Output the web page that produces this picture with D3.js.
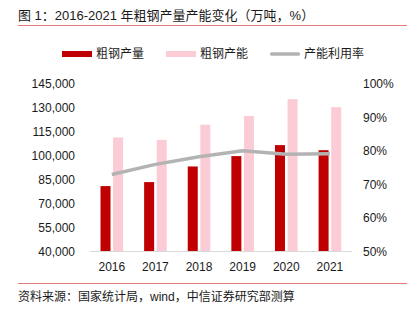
<!DOCTYPE html>
<html>
<head>
<meta charset="utf-8">
<script src="https://cdn.jsdelivr.net/npm/d3@7"></script>
<style>
  body { margin: 0; background: #fff; }
  text { font-family: "Liberation Sans", "Noto Sans CJK SC", sans-serif; fill: #1a1a1a; }
</style>
</head>
<body>
<div id="chart"></div>
<script>
// data
var years = ["2016", "2017", "2018", "2019", "2020", "2021"];
var output = [81000, 83500, 93300, 99800, 106700, 103500];       // 粗钢产量
var capacity = [111500, 110000, 119500, 125000, 135500, 130500]; // 粗钢产能
var utilization = [73.0, 76.0, 78.3, 80.1, 79.0, 79.2];          // 产能利用率 %
var leftTicks = [40000, 55000, 70000, 85000, 100000, 115000, 130000, 145000];
var rightTicks = [50, 60, 70, 80, 90, 100];

var W = 416, H = 321;
var svg = d3.select("#chart").append("svg")
    .attr("width", W)
    .attr("height", H);

// title and rules
svg.append("text")
    .attr("x", 18).attr("y", 20)
    .style("font-size", "13px")
    .text("图 1：2016-2021 年粗钢产量产能变化（万吨，%）");

svg.append("line")
    .attr("x1", 18).attr("x2", 407)
    .attr("y1", 25.5).attr("y2", 25.5)
    .attr("stroke", "#e77b7b").attr("stroke-width", 1);

svg.append("line")
    .attr("x1", 18).attr("x2", 407)
    .attr("y1", 283.5).attr("y2", 283.5)
    .attr("stroke", "#e77b7b").attr("stroke-width", 1);

svg.append("text")
    .attr("x", 18).attr("y", 301)
    .style("font-size", "12px")
    .text("资料来源：国家统计局，wind，中信证券研究部测算");

// scales
var x = d3.scaleBand().domain(years).range([90, 351.7]);
var yL = d3.scaleLinear().domain([40000, 145000]).range([251.5, 84]);
var yR = d3.scaleLinear().domain([50, 100]).range([251.5, 84]);

var barW = 10, gap = 1.3;

// left axis labels
svg.append("g").selectAll("text")
    .data(leftTicks).enter().append("text")
    .attr("x", 75)
    .attr("y", function(d) { return yL(d); })
    .attr("dy", "0.35em")
    .attr("text-anchor", "end")
    .style("font-size", "12px")
    .text(function(d) { return d3.format(",")(d); });

// right axis labels
svg.append("g").selectAll("text")
    .data(rightTicks).enter().append("text")
    .attr("x", 363)
    .attr("y", function(d) { return yR(d); })
    .attr("dy", "0.35em")
    .style("font-size", "12px")
    .text(function(d) { return d + "%"; });

// bars
svg.append("g").selectAll("rect")
    .data(years).enter().append("rect")
    .attr("x", function(d) { return x(d) + x.bandwidth() / 2 - gap - barW; })
    .attr("width", barW)
    .attr("y", function(d, i) { return yL(output[i]); })
    .attr("height", function(d, i) { return yL(40000) - yL(output[i]); })
    .attr("fill", "#c00000");

svg.append("g").selectAll("rect")
    .data(years).enter().append("rect")
    .attr("x", function(d) { return x(d) + x.bandwidth() / 2 + gap; })
    .attr("width", barW)
    .attr("y", function(d, i) { return yL(capacity[i]); })
    .attr("height", function(d, i) { return yL(40000) - yL(capacity[i]); })
    .attr("fill", "#fbccd5");

// baseline
svg.append("line")
    .attr("x1", 90).attr("x2", 351.7)
    .attr("y1", 251.5).attr("y2", 251.5)
    .attr("stroke", "#d9d9d9").attr("stroke-width", 1);

// x labels
svg.append("g").selectAll("text")
    .data(years).enter().append("text")
    .attr("x", function(d) { return x(d) + x.bandwidth() / 2; })
    .attr("y", 271)
    .attr("text-anchor", "middle")
    .style("font-size", "12px")
    .text(function(d) { return d; });

// utilization line
var line = d3.line()
    .x(function(d, i) { return x(years[i]) + x.bandwidth() / 2; })
    .y(function(d) { return yR(d); });

svg.append("path")
    .datum(utilization)
    .attr("d", line)
    .attr("fill", "none")
    .attr("stroke", "#b3b3b3")
    .attr("stroke-width", 3.5);

// legend
var legend = [
  {name: "粗钢产量", color: "#c00000", x: 62, h: 6},
  {name: "粗钢产能", color: "#fbccd5", x: 166, h: 6},
  {name: "产能利用率", color: "#b3b3b3", x: 270, h: 3.5}
];
var lg = svg.append("g").selectAll("g")
    .data(legend).enter().append("g");
lg.append("rect")
    .attr("x", function(d) { return d.x; })
    .attr("y", function(d) { return 54 - d.h / 2; })
    .attr("width", 30)
    .attr("height", function(d) { return d.h; })
    .attr("rx", function(d) { return d.h < 5 ? 1.5 : 0; })
    .attr("fill", function(d) { return d.color; });
lg.append("text")
    .attr("x", function(d) { return d.x + 34; })
    .attr("y", 54)
    .attr("dy", "0.35em")
    .style("font-size", "12px")
    .text(function(d) { return d.name; });
</script>
</body>
</html>
